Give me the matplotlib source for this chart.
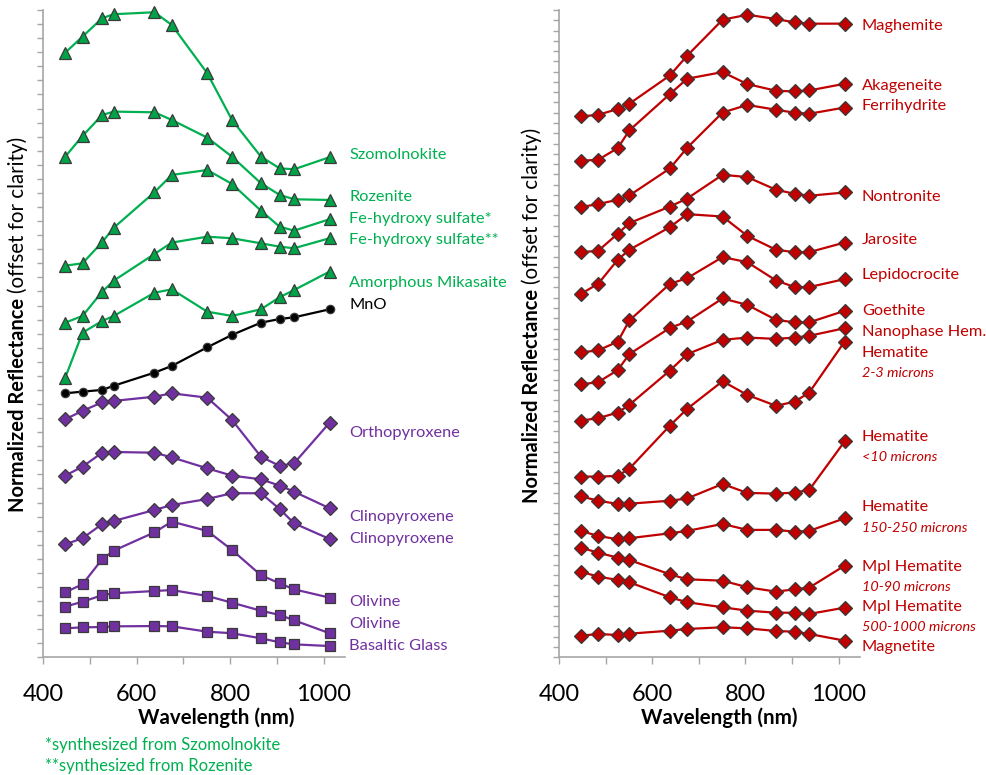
import matplotlib
matplotlib.use("Agg")
import matplotlib.pyplot as plt
from matplotlib.ticker import MultipleLocator, NullFormatter

plt.rcParams['font.family'] = ['Lato', 'DejaVu Sans']

# filter wavelengths (nm)
wl = [447, 484, 526, 551, 638, 675, 751, 804, 866, 906, 937, 1013]

# ---- left panel: sulfates, MnO, mafic minerals (offset units) ----
szomolnokite = [42.97, 44.11, 45.42, 45.70, 45.84, 44.94, 41.51, 38.19, 35.58, 34.75, 34.68, 35.54]
rozenite = [35.58, 37.05, 38.54, 38.78, 38.73, 38.19, 36.93, 35.58, 33.69, 32.86, 32.55, 32.50]
fe_sulfate_1 = [27.83, 28.00, 29.50, 30.53, 33.05, 34.28, 34.63, 33.64, 31.74, 30.60, 30.32, 31.13]
fe_sulfate_2 = [23.78, 24.26, 25.98, 26.77, 28.66, 29.47, 29.89, 29.78, 29.42, 29.18, 29.07, 29.78]
mikasaite = [19.87, 23.07, 23.90, 24.26, 25.91, 26.15, 24.56, 24.26, 24.73, 25.59, 26.10, 27.41]
mno = [18.76, 18.88, 19.00, 19.30, 20.23, 20.70, 22.03, 22.91, 23.78, 24.04, 24.16, 24.73]
orthopyroxene = [16.92, 17.51, 18.12, 18.22, 18.52, 18.76, 18.45, 16.87, 14.26, 13.60, 13.79, 16.67]
clinopyroxene_1 = [12.91, 13.55, 14.54, 14.59, 14.54, 14.21, 13.43, 12.91, 12.65, 12.20, 11.77, 10.59]
clinopyroxene_2 = [8.03, 8.46, 9.47, 9.69, 10.47, 10.82, 11.25, 11.66, 11.66, 10.54, 9.52, 8.41]
olivine_1 = [4.62, 5.19, 6.97, 7.58, 8.88, 9.64, 8.98, 7.63, 5.83, 5.26, 4.83, 4.24]
olivine_2 = [3.60, 3.95, 4.41, 4.55, 4.71, 4.78, 4.36, 3.88, 3.31, 3.01, 2.63, 1.71]
basaltic_glass = [2.06, 2.13, 2.15, 2.20, 2.22, 2.20, 1.82, 1.71, 1.35, 1.07, 0.92, 0.80]

# ---- right panel: iron oxides ----
maghemite = [52.64, 52.80, 53.36, 53.88, 56.63, 58.55, 62.05, 62.54, 62.12, 61.79, 61.67, 61.67]
akageneite = [48.33, 48.42, 49.56, 51.28, 54.82, 56.31, 56.96, 55.79, 55.14, 55.07, 55.17, 55.82]
ferrihydrite = [43.82, 44.11, 44.53, 44.95, 47.58, 49.59, 53.02, 53.76, 53.29, 53.00, 52.90, 53.51]
nontronite = [39.43, 39.56, 41.22, 42.26, 43.87, 44.65, 46.96, 46.74, 45.50, 45.11, 44.92, 45.24]
jarosite = [35.37, 36.35, 38.69, 39.66, 41.87, 43.13, 42.90, 41.02, 39.66, 39.43, 39.43, 40.37]
lepidocrocite = [29.68, 29.87, 30.72, 32.78, 36.35, 36.90, 38.95, 38.46, 36.67, 36.03, 36.03, 36.81]
goethite = [26.56, 26.78, 27.95, 29.51, 32.06, 32.68, 34.93, 34.30, 32.84, 32.60, 32.60, 33.72]
nanophase_hem = [23.04, 23.27, 23.82, 24.57, 27.91, 29.50, 30.90, 31.12, 30.99, 31.12, 31.29, 32.03]
hematite_2_3 = [17.59, 17.59, 17.65, 18.36, 22.55, 24.18, 26.87, 25.54, 24.47, 24.89, 25.76, 30.73]
hematite_lt10 = [15.66, 15.24, 14.93, 14.95, 15.24, 15.46, 16.87, 16.00, 15.93, 16.03, 16.29, 21.01]
hematite_150_250 = [12.30, 11.81, 11.49, 11.59, 12.07, 12.30, 12.98, 12.40, 12.40, 12.23, 12.30, 13.53]
mpl_hematite_10_90 = [10.67, 10.18, 9.70, 9.47, 8.08, 7.59, 7.46, 6.82, 6.39, 6.62, 6.78, 8.92]
mpl_hematite_500_1000 = [8.33, 7.85, 7.53, 7.30, 5.84, 5.36, 4.87, 4.54, 4.34, 4.34, 4.22, 4.83]
magnetite = [2.10, 2.27, 2.17, 2.30, 2.59, 2.76, 2.92, 2.82, 2.56, 2.49, 2.27, 1.62]

GREEN = '#00B050'
GREEN_FACE = '#00A347'
PURPLE = '#7030A0'
RED = '#C00000'
EDGE = '#3a3a3a'
AXCOL = '#a6a6a6'


def style_axes(ax, ymax, xlab_x):
    ax.set_xlim(400, 1046)
    ax.set_ylim(0, ymax)
    for s in ['top', 'right']:
        ax.spines[s].set_visible(False)
    for s in ['left', 'bottom']:
        ax.spines[s].set_color(AXCOL)
        ax.spines[s].set_linewidth(1.2)
    ax.xaxis.set_major_locator(MultipleLocator(200))
    ax.xaxis.set_minor_locator(MultipleLocator(100))
    ax.yaxis.set_major_locator(MultipleLocator(1))
    ax.yaxis.set_major_formatter(NullFormatter())
    ax.tick_params(axis='x', which='both', direction='out', length=5, width=1,
                   color=AXCOL, labelsize=17, pad=14)
    ax.tick_params(axis='y', which='both', direction='out', length=4, width=1,
                   color=AXCOL)
    ax.set_xlabel('Wavelength (nm)', fontsize=14.8, fontweight='bold')
    ax.xaxis.set_label_coords(xlab_x, -0.077)


def draw_series(ax, ys, line, face, marker, ms):
    ax.plot(wl, ys, color=line, linewidth=1.6, marker=marker, markersize=ms,
            markerfacecolor=face, markeredgecolor=EDGE, markeredgewidth=0.9,
            clip_on=False, zorder=3)


def ylabel(fig, x_px, y_px):
    t1 = fig.text(x_px / 986, y_px / 775, 'Normalized Reflectance',
                  rotation=90, ha='center', va='bottom', fontsize=14.5,
                  fontweight='bold')
    fig.canvas.draw()
    bb = t1.get_window_extent()
    fig.text(x_px / 986, (bb.y1 + 5) / 775, '(offset for clarity)',
             rotation=90, ha='center', va='bottom', fontsize=14.8)


def main():
    fig = plt.figure(figsize=(9.86, 7.75), dpi=100)
    ax1 = fig.add_axes([43.3 / 986, 117.7 / 775, 301.7 / 986, 647.3 / 775])
    ax2 = fig.add_axes([559 / 986, 117.7 / 775, 301 / 986, 647.3 / 775])
    style_axes(ax1, 46, 0.574)
    style_axes(ax2, 63, 0.532)

    # left panel
    left = [
        (szomolnokite, GREEN, GREEN_FACE, '^', 9),
        (rozenite, GREEN, GREEN_FACE, '^', 9),
        (fe_sulfate_1, GREEN, GREEN_FACE, '^', 9),
        (fe_sulfate_2, GREEN, GREEN_FACE, '^', 9),
        (mikasaite, GREEN, GREEN_FACE, '^', 9),
        (mno, 'black', 'black', 'o', 6),
        (orthopyroxene, PURPLE, PURPLE, 'D', 7),
        (clinopyroxene_1, PURPLE, PURPLE, 'D', 7),
        (clinopyroxene_2, PURPLE, PURPLE, 'D', 7),
        (olivine_1, PURPLE, PURPLE, 's', 6.5),
        (olivine_2, PURPLE, PURPLE, 's', 6.5),
        (basaltic_glass, PURPLE, PURPLE, 's', 6.5),
    ]
    for ys, lc, fc, m, ms in left:
        draw_series(ax1, ys, lc, fc, m, ms)

    left_labels = [
        ('Szomolnokite', 35.70, GREEN), ('Rozenite', 32.68, GREEN),
        ('Fe-hydroxy sulfate*', 31.12, GREEN), ('Fe-hydroxy sulfate**', 29.69, GREEN),
        ('Amorphous Mikasaite', 26.62, GREEN), ('MnO', 25.06, 'black'),
        ('Orthopyroxene', 15.96, PURPLE), ('Clinopyroxene', 9.95, PURPLE),
        ('Clinopyroxene', 8.41, PURPLE), ('Olivine', 3.95, PURPLE),
        ('Olivine', 2.39, PURPLE), ('Basaltic Glass', 0.82, PURPLE),
    ]
    for txt, y, c in left_labels:
        ax1.text(1055, y, txt, color=c, fontsize=11.8, va='center', ha='left',
                 clip_on=False)

    # right panel
    right = [maghemite, akageneite, ferrihydrite, nontronite, jarosite,
             lepidocrocite, goethite, nanophase_hem, hematite_2_3, hematite_lt10,
             hematite_150_250, mpl_hematite_10_90, mpl_hematite_500_1000, magnetite]
    for ys in right:
        draw_series(ax2, ys, RED, RED, 'D', 7)

    right_labels = [
        ('Maghemite', 61.40), ('Akageneite', 55.63), ('Ferrihydrite', 53.61),
        ('Nontronite', 44.79), ('Jarosite', 40.63), ('Lepidocrocite', 37.20),
        ('Goethite', 33.72), ('Nanophase Hem.', 31.70), ('Hematite', 29.60),
        ('Hematite', 21.48), ('Hematite', 14.61), ('Mpl Hematite', 8.82),
        ('Mpl Hematite', 4.93), ('Magnetite', 0.97),
    ]
    for txt, y in right_labels:
        ax2.text(1050, y, txt, color=RED, fontsize=11.8, va='center', ha='left',
                 clip_on=False)
    size_labels = [('2-3 microns', 27.65), ('<10 microns', 19.53),
                   ('150-250 microns', 12.62), ('10-90 microns', 6.87),
                   ('500-1000 microns', 2.92)]
    for txt, y in size_labels:
        ax2.text(1050, y, txt, color=RED, fontsize=10.4, style='italic',
                 va='center', ha='left', clip_on=False)

    ylabel(fig, 18, 263)
    ylabel(fig, 532, 272)

    fig.text(45 / 986, 1 - 745 / 775, '*synthesized from Szomolnokite',
             color=GREEN, fontsize=12, va='center')
    fig.text(45 / 986, 1 - 765.7 / 775, '**synthesized from Rozenite',
             color=GREEN, fontsize=12, va='center')

    fig.savefig('out.png', dpi=100)


if __name__ == "__main__":
    main()
